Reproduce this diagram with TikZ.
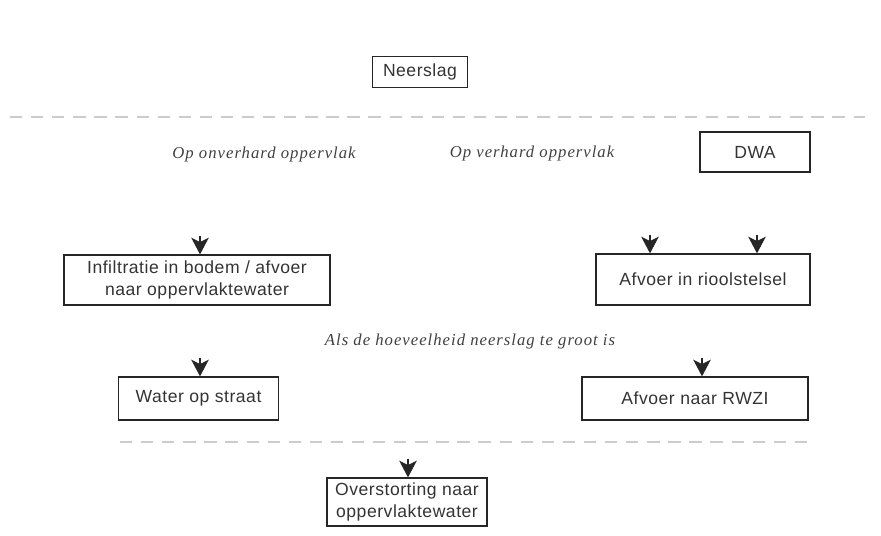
\documentclass[tikz,border=0pt]{standalone}
\usepackage{fontspec}
\setmainfont{Liberation Serif}[LetterSpace=6]
\setsansfont{Liberation Sans}[LetterSpace=3]
\usetikzlibrary{arrows.meta}

\tikzset{
	blok/.style={draw=black!85,line width=0.7pt,inner sep=0pt,align=center,text=black!80,
		font=\sffamily\fontsize{10}{13}\selectfont},
	opmerking/.style={text=black!75,font=\itshape\fontsize{9.5}{11}\selectfont},
	pijl/.style={-{Stealth[length=9.5pt,width=10pt,inset=2.5pt]},line width=0.6pt,black!85},
	scheiding/.style={gray!40,line width=0.7pt,dash pattern=on 7pt off 5pt}
}

\begin{document}
\begin{tikzpicture}
	\useasboundingbox (0,0) rectangle (17.62,10.72);
	
	% neerslag
	\node[blok,minimum width=1.9cm,minimum height=0.62cm] (neerslag) at(8.4,9.28) {Neerslag};
	
	% dashed line top
	\draw[scheiding] (0.2,8.38) -- (17.3,8.38);
	
	% type oppervlak
	\node[opmerking] (onverhard) at(5.28,7.64) {Op onverhard oppervlak};
	\node[opmerking] (verhard) at(10.64,7.66) {Op verhard oppervlak};
	\node[blok,minimum width=2.2cm,minimum height=0.8cm] (dwa) at(15.1,7.68) {DWA};
	
	% boxes middle
	\node[blok,minimum width=5.32cm,minimum height=1.0cm] (infiltratie) at(3.94,5.12)
		{Infiltratie in bodem / afvoer\\naar oppervlaktewater};
	\node[blok,minimum width=4.28cm,minimum height=1.02cm] (riool) at(14.06,5.13)
		{Afvoer in rioolstelsel};
	
	\node[opmerking] (teveel) at(9.4,3.9) {Als de hoeveelheid neerslag te groot is};
	
	% boxes bottom
	\node[blok,minimum width=3.2cm,minimum height=0.86cm] (straat) at(3.97,2.75) {Water op straat};
	\node[blok,minimum width=4.52cm,minimum height=0.86cm] (rwzi) at(13.9,2.75) {Afvoer naar RWZI};
	
	% dashed line bottom
	\draw[scheiding] (2.4,1.88) -- (16.2,1.88);
	
	\node[blok,minimum width=3.2cm,minimum height=0.96cm] (overstorting) at(8.14,0.68)
		{Overstorting naar\\oppervlaktewater};
	
	% arrows
	\coordinate (p1) at(4.0,6.0);
	\coordinate (p2) at(13.0,6.02);
	\coordinate (p3) at(15.14,6.02);
	\coordinate (p4) at(4.0,3.56);
	\coordinate (p5) at(14.04,3.56);
	\coordinate (p6) at(8.16,1.54);
	\draw[pijl] (p1) -- (p1 |- infiltratie.north);
	\draw[pijl] (p2) -- (p2 |- riool.north);
	\draw[pijl] (p3) -- (p3 |- riool.north);
	\draw[pijl] (p4) -- (p4 |- straat.north);
	\draw[pijl] (p5) -- (p5 |- rwzi.north);
	\draw[pijl] (p6) -- (p6 |- overstorting.north);
	
\end{tikzpicture}
\end{document}
